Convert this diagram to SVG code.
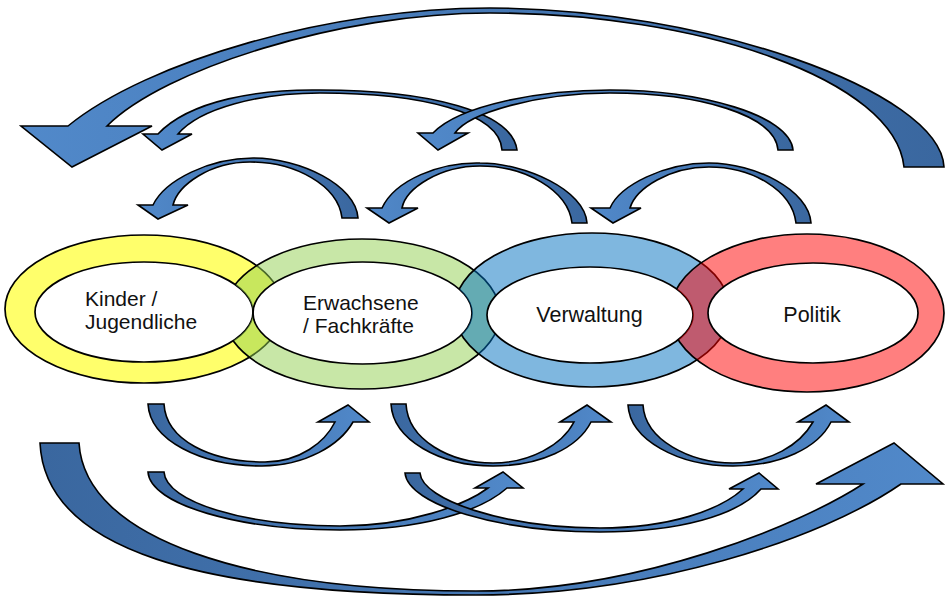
<svg xmlns="http://www.w3.org/2000/svg" width="952" height="597" viewBox="0 0 952 597">
<style>
.arr{stroke:#000;stroke-width:1.6;stroke-linejoin:miter}
.top{fill:url(#gTop)}
.bot{fill:url(#gBot)}
.outer{stroke:#000;stroke-width:1.7}
.inner{fill:none;stroke:#000;stroke-width:1.7}
.lbl{font-family:"Liberation Sans",Arial,sans-serif;font-size:21px;fill:#111}
.one{font-size:21.5px}
</style>
<defs>
<linearGradient id="gTop" x1="0" y1="0" x2="1" y2="0">
<stop offset="0" stop-color="#5189CA"/><stop offset="1" stop-color="#3A679F"/>
</linearGradient>
<linearGradient id="gBot" x1="0" y1="0" x2="1" y2="0">
<stop offset="0" stop-color="#3A679F"/><stop offset="1" stop-color="#5189CA"/>
</linearGradient>
<mask id="holes" maskUnits="userSpaceOnUse" x="0" y="0" width="952" height="597">
<rect x="0" y="0" width="952" height="597" fill="#fff"/>
<ellipse cx="144" cy="312" rx="109" ry="50" fill="#000"/>
<ellipse cx="362.5" cy="313" rx="109.5" ry="51" fill="#000"/>
<ellipse cx="590" cy="315" rx="103" ry="48" fill="#000"/>
<ellipse cx="813" cy="313" rx="105" ry="50" fill="#000"/>
</mask>
</defs>
<rect x="0" y="0" width="952" height="597" fill="#fff"/>

<g id="node-kinder">
<ellipse class="outer" cx="144" cy="309" rx="139" ry="74" fill="#FFFF00" fill-opacity="0.58" mask="url(#holes)"/>
<ellipse class="inner" cx="144" cy="312" rx="109" ry="50"/>
<text class="lbl" x="85" y="305.5">Kinder /</text>
<text class="lbl" x="85" y="329">Jugendliche</text>
</g>
<g id="node-erwachsene">
<ellipse class="outer" cx="362" cy="314" rx="138" ry="75" fill="#92D050" fill-opacity="0.5" mask="url(#holes)"/>
<ellipse class="inner" cx="362.5" cy="313" rx="109.5" ry="51"/>
<text class="lbl" x="303" y="309.5">Erwachsene</text>
<text class="lbl" x="303" y="333">/ Fachkräfte</text>
</g>
<g id="node-verwaltung">
<ellipse class="outer" cx="592" cy="310" rx="138" ry="77" fill="#0070C0" fill-opacity="0.5" mask="url(#holes)"/>
<ellipse class="inner" cx="590" cy="315" rx="103" ry="48"/>
<text class="lbl one" x="589.5" y="321.5" text-anchor="middle">Verwaltung</text>
</g>
<g id="node-politik">
<ellipse class="outer" cx="807" cy="313" rx="137" ry="79" fill="#FF0000" fill-opacity="0.5" mask="url(#holes)"/>
<ellipse class="inner" cx="813" cy="313" rx="105" ry="50"/>
<text class="lbl one" x="812" y="321.5" text-anchor="middle">Politik</text>
</g>

<g id="connectors">
<path class="arr top" d="M944,167 C940,90 700,8 490,8 C330,8 148,61 68,126 L21,126 L72,167 L152,126 L107,126 C164,69 340,13 490,13 C700,13 895,80 904,167 Z"/>
<path class="arr top" d="M517,150 C512,112 430,90 320,90 C260,89 190,100 158,134 L143,134 L162,150 L192,134 L178,134 C200,108 260,93 320,93 C420,93 500,112 502,150 Z"/>
<path class="arr top" d="M793,150 C790,115 700,90 610,90 C540,90 460,105 433,133 L418,133 L438,150 L468,133 L455,133 C470,112 540,93 610,93 C700,93 775,115 778,150 Z"/>
<path class="arr top" d="M358,218 C356,185 300,158 253,158 C210,158 165,180 153,205 L138,205 L158,219 L188,205 L173,205 C178,185 210,162 250,162 C295,162 338,185 342,218 Z"/>
<path class="arr top" d="M587,223 C585,190 525,163 480,163 C440,162 395,180 382,208 L367,208 L389,223 L418,208 L402,208 C406,188 440,166 480,166 C525,166 568,190 572,223 Z"/>
<path class="arr top" d="M811,223 C809,190 755,163 709,163 C665,163 620,185 610,208 L591,208 L613,223 L641,208 L630,208 C636,188 670,167 709,167 C752,167 792,190 796,223 Z"/>
<path class="arr bot" d="M148,404 C150,440 200,466 262,466 C305,466 340,445 353,422 L369,422 L348,405 L318,422 L335,422 C325,442 300,462 265,462 C210,462 166,440 164,404 Z"/>
<path class="arr bot" d="M391,404 C393,440 440,466 493,466 C540,466 578,448 591,422 L611,422 L587,405 L560,422 L574,422 C562,445 530,463 493,463 C450,463 408,440 406,404 Z"/>
<path class="arr bot" d="M628,405 C630,440 678,466 733,466 C780,466 818,448 831,422 L849,422 L826,405 L798,422 L813,422 C800,445 770,463 733,463 C690,463 645,440 643,405 Z"/>
<path class="arr bot" d="M148,472 C150,505 240,530 340,530 C420,530 480,512 507,488 L523,488 L503,472 L475,488 L488,488 C465,505 410,526 340,526 C245,526 166,502 164,472 Z"/>
<path class="arr bot" d="M405,473 C408,505 500,532 600,532 C680,532 738,515 761,489 L778,489 L759,473 L729,489 L743,489 C720,510 670,528 600,528 C505,528 422,500 420,473 Z"/>
<path class="arr bot" d="M40,443 C45,550 200,595 476,595 C650,595 820,540 901,484 L943,484 L894,443 L816,484 L863,484 C800,525 640,591 476,591 C250,591 85,540 79,443 Z"/>
</g>
</svg>
